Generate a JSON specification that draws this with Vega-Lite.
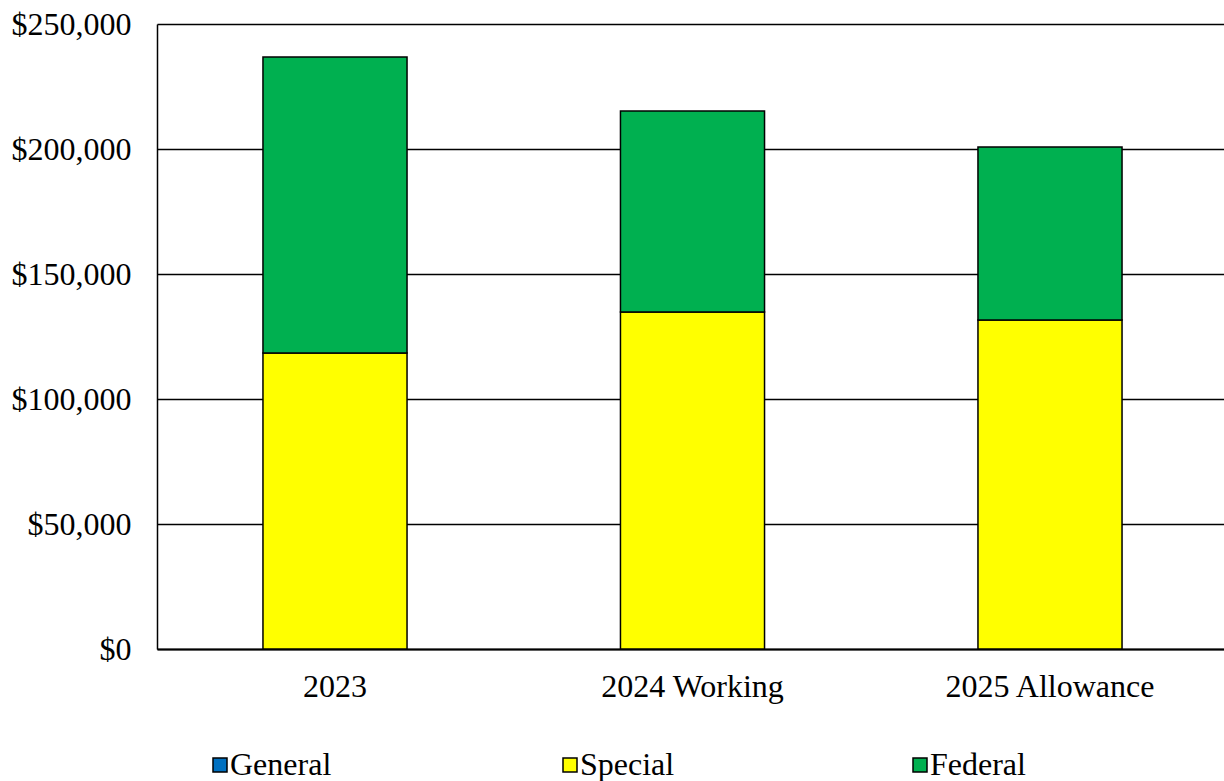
{
  "$schema": "https://vega.github.io/schema/vega-lite/v6.json",
  "width": 1071,
  "height": 625,
  "padding": {"left": 157, "top": 24, "right": 0, "bottom": 132},
  "autosize": {"type": "none"},
  "background": "white",
  "config": {
    "font": "Liberation Serif",
    "view": {"stroke": null}
  },
  "data": {
    "values": [
      {"year": "2023", "fund": "General", "value": 0, "ord": 0},
      {"year": "2023", "fund": "Special", "value": 118400, "ord": 1},
      {"year": "2023", "fund": "Federal", "value": 118400, "ord": 2},
      {"year": "2024 Working", "fund": "General", "value": 0, "ord": 0},
      {"year": "2024 Working", "fund": "Special", "value": 134800, "ord": 1},
      {"year": "2024 Working", "fund": "Federal", "value": 80400, "ord": 2},
      {"year": "2025 Allowance", "fund": "General", "value": 0, "ord": 0},
      {"year": "2025 Allowance", "fund": "Special", "value": 131600, "ord": 1},
      {"year": "2025 Allowance", "fund": "Federal", "value": 69200, "ord": 2}
    ]
  },
  "mark": {"type": "bar", "stroke": "black", "strokeWidth": 1.5},
  "encoding": {
    "x": {
      "field": "year", "type": "nominal", "sort": null,
      "scale": {"paddingInner": 0.597, "paddingOuter": 0.2964},
      "axis": {"title": null, "labelAngle": 0, "labelFontSize": 32, "labelLimit": 0, "labelColor": "black", "labelFont": "Liberation Serif", "ticks": false, "domainColor": "black", "domainWidth": 2, "labelPadding": 22}
    },
    "y": {
      "field": "value", "type": "quantitative", "stack": "zero",
      "scale": {"domain": [0, 250000]},
      "axis": {"title": null, "values": [0, 50000, 100000, 150000, 200000, 250000], "format": "$,.0f", "labelFontSize": 32, "labelColor": "black", "labelFont": "Liberation Serif", "ticks": false, "labelPadding": 26, "gridColor": "black", "gridWidth": 1.5, "gridOpacity": 1, "domainColor": "black", "domainWidth": 1.5}
    },
    "color": {
      "field": "fund", "type": "nominal",
      "scale": {"domain": ["General", "Special", "Federal"], "range": ["#0070C0", "#FFFF00", "#00B050"]},
      "legend": {
        "title": null, "orient": "none", "legendX": 47, "legendY": 725, "direction": "horizontal", "columns": 3,
        "gridAlign": "all", "columnPadding": 222, "symbolType": "square", "symbolSize": 196,
        "symbolStrokeColor": "black", "symbolStrokeWidth": 1.5, "labelFontSize": 32, "labelFont": "Liberation Serif", "labelColor": "black", "labelOffset": -6
      }
    },
    "order": {"field": "ord", "type": "quantitative"}
  }
}
